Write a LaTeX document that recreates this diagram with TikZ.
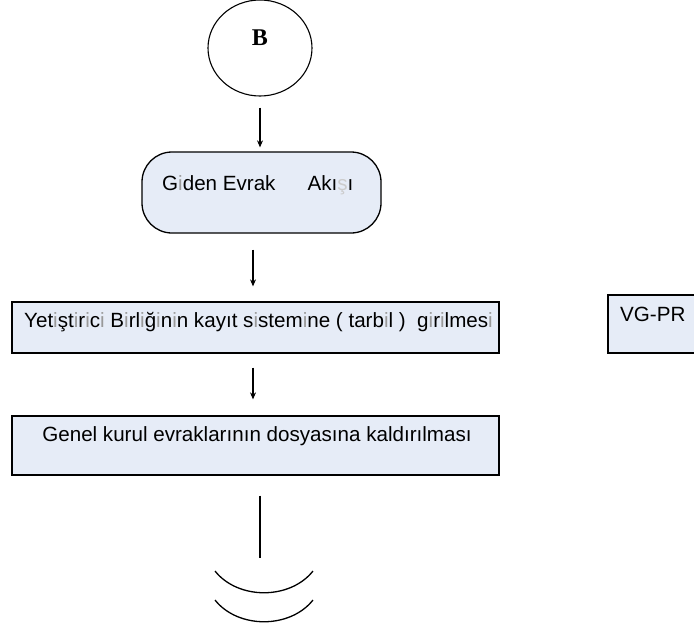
\documentclass[tikz,border=0pt]{standalone}
\usepackage{fontspec}
\setmainfont{Liberation Sans}
\newfontfamily\serifB{Liberation Serif}
\usetikzlibrary{shapes.geometric,arrows.meta}
\definecolor{boxblue}{RGB}{230,236,247}
% letters the reference prints as a grey gap
\newcommand\gi{\textcolor{black!40}{i}}
\newcommand\gs{\textcolor{black!20}{ş}}
\begin{document}
\begin{tikzpicture}[x=1pt,y=-1pt,
  flowbox/.style={draw, line width=1.3pt, fill=boxblue, inner sep=0pt},
  txt/.style={font=\fontsize{20.6}{22}\selectfont, inner sep=0pt},
  conn/.style={line width=1.1pt},
  arr/.style={conn, -{Stealth[length=7pt,width=6pt]}}]
\useasboundingbox (0,0) rectangle (694,632);
\clip (0,0) rectangle (694,632);
% start connector circle
\node[draw, ellipse, line width=1.1pt, minimum width=104pt, minimum height=96pt, inner sep=0pt] (B) at (260,48) {};
\node[font=\serifB\bfseries\fontsize{24}{24}\selectfont, inner sep=0pt] (Btxt) at (260,38) {B};
% rounded terminal
\node[flowbox, rounded corners=30pt, minimum width=239pt, minimum height=81pt] (giden) at (261.5,192.5) {};
\node[txt, anchor=west] (gidentxt) at (162,185) {G\gi den Evrak\hspace{32pt}Akı\gs ı};
% boxes
\node[flowbox, minimum width=487pt, minimum height=51pt] (yet) at (255.5,327.5) {};
\node[txt, anchor=west] (yettxt) at (24,322) {Yet\gi şt\gi r\gi c\gi\ B\gi rl\gi ğ\gi n\gi n kayıt s\gi stem\gi ne ( tarb\gi l )\ \ g\gi r\gi lmes\gi};
\node[flowbox, minimum width=487pt, minimum height=59pt] (genel) at (255.5,445.5) {};
\node[txt] (geneltxt) at (257,436) {Genel kurul evraklarının dosyasına kaldırılması};
\node[flowbox, minimum width=110pt, minimum height=58pt] (vg) at (663,324) {};
\node[txt, anchor=west] (vgtxt) at (620,314) {VG-PR};
% connectors
\coordinate (ax) at (253,0);
\draw[arr, shorten <=11pt, shorten >=4pt] (B.south) -- (B.south |- giden.north);
\draw[arr, shorten <=16pt, shorten >=15pt] (ax |- giden.south) -- (ax |- yet.north);
\draw[arr, shorten <=14pt, shorten >=16pt] (ax |- yet.south) -- (ax |- genel.north);
\coordinate (lend) at (260,558);
\draw[conn, shorten <=20pt] (lend |- genel.south) -- (lend);
% off-page connector arcs
\draw[line width=1.3pt] (215,571) .. controls (238,600) and (290,600) .. (313,571);
\draw[line width=1.3pt] (215,600) .. controls (238,629) and (290,629) .. (313,600);
\end{tikzpicture}
\end{document}
